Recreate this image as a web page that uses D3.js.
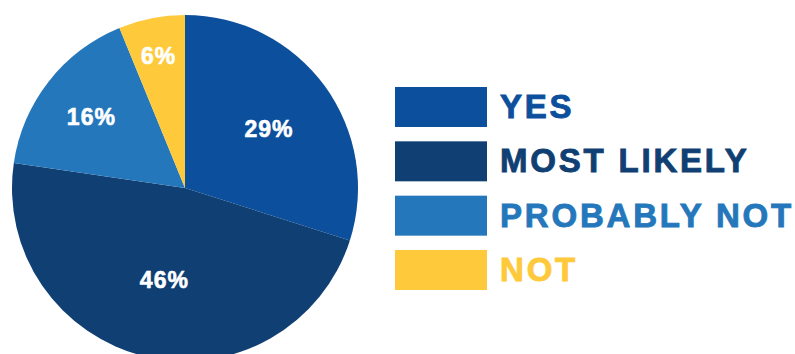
<!DOCTYPE html>
<html>
<head>
<meta charset="utf-8">
<script src="https://cdn.jsdelivr.net/npm/d3@7"></script>
<style>
  body { margin: 0; background: #ffffff; }
  svg { display: block; }
</style>
</head>
<body>
<script>
// data
var categories = ['YES', 'MOST LIKELY', 'PROBABLY NOT', 'NOT'];
var shares = [29, 46, 16, 6];
var colours = ['#0c4f9c', '#103f73', '#2577bb', '#fec93a'];

// ----------------------------------------------------------------------------
var width = 795, height = 354;
var cx = 185, cy = 188, radius = 173;
var font = '"Liberation Sans", Arial, sans-serif';

var svg = d3.select('body').append('svg')
  .attr('width', width)
  .attr('height', height);

var pie = d3.pie().sort(null).value(function (d) { return d; });
var arcs = pie(shares);

var arc = d3.arc().innerRadius(0).outerRadius(radius);

// smaller slices carry their label further out
var labelRadius = d3.scaleLinear()
  .domain([0.06, 0.17, 0.3, 0.47])
  .range([137, 118, 104, 92]);
var total = d3.sum(shares);

var g = svg.append('g').attr('transform', 'translate(' + cx + ',' + cy + ')');

g.selectAll('path')
  .data(arcs)
  .enter()
  .append('path')
  .attr('d', arc)
  .style('fill', function (d, i) { return colours[i]; });

g.selectAll('text')
  .data(arcs)
  .enter()
  .append('text')
  .attr('transform', function (d) {
    var r = labelRadius(d.value / total);
    var c = d3.arc().innerRadius(r).outerRadius(r).centroid(d);
    return 'translate(' + c[0] + ',' + c[1] + ')';
  })
  .attr('dy', '0.45em')
  .attr('text-anchor', 'middle')
  .style('font-family', font)
  .style('font-weight', 'bold')
  .style('font-size', '23px')
  .style('letter-spacing', '1px')
  .style('fill', '#ffffff')
  .style('stroke', '#ffffff')
  .style('stroke-width', '0.6px')
  .text(function (d) { return d.value + '%'; });

// ----------------------------------------------------------------------------
// legend
var legendY = d3.scalePoint().domain(categories).range([107, 270]);

var legend = svg.selectAll('.legend')
  .data(categories)
  .enter()
  .append('g')
  .attr('class', 'legend')
  .attr('transform', function (d) { return 'translate(395,' + legendY(d) + ')'; });

legend.append('rect')
  .attr('x', 0)
  .attr('y', -20)
  .attr('width', 92)
  .attr('height', 40)
  .style('fill', function (d, i) { return colours[i]; });

legend.append('text')
  .attr('x', 105)
  .attr('y', 11)
  .style('font-family', font)
  .style('font-weight', 'bold')
  .style('font-size', '33px')
  .style('letter-spacing', '2.8px')
  .style('fill', function (d, i) { return colours[i]; })
  .style('stroke', function (d, i) { return colours[i]; })
  .style('stroke-width', '0.9px')
  .text(function (d) { return d; });
</script>
</body>
</html>
